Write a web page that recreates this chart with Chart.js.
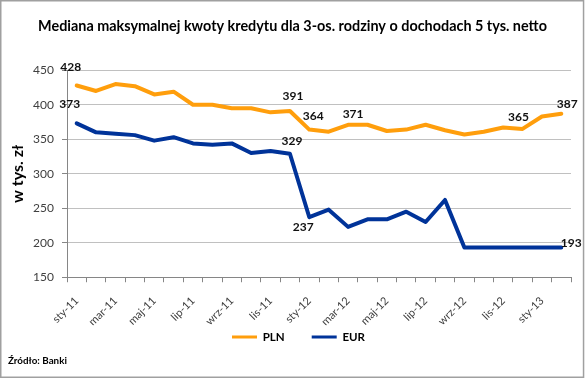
<!DOCTYPE html>
<html><head><meta charset="utf-8">
<script src="https://cdn.jsdelivr.net/npm/chart.js@4"></script>
<style>html,body{margin:0;padding:0;background:#fff}canvas{display:block}</style>
</head><body>
<canvas id="c" width="585" height="378"></canvas>
<script>
// ---- data ----
const categories = ['sty-11','lut-11','mar-11','kwi-11','maj-11','cze-11','lip-11','sie-11','wrz-11','paź-11','lis-11','gru-11',
  'sty-12','lut-12','mar-12','kwi-12','maj-12','cze-12','lip-12','sie-12','wrz-12','paź-12','lis-12','gru-12','sty-13','lut-13'];
const plnValues = [428,420,430,427,415,419,400,400,395,395,389,391,364,361,371,371,362,364,371,363,357,361,367,365,383,387];
const eurValues = [373,360,358,356,348,353,344,342,344,330,333,329,237,248,223,234,234,245,230,262,193,193,193,193,193,193];
const seriesNames = ['PLN','EUR'];
const yTicks = [150,200,250,300,350,400,450];
const plnLabelled = [0,11,12,14,23,25];
const eurLabelled = [0,11,12,25];
const titleText = 'Mediana maksymalnej kwoty kredytu dla 3-os. rodziny o dochodach 5 tys. netto';
const yTitle = 'w tys. zł';
const sourceText = 'Źródło: Banki';

// ---- styles / label placement ----
const FONT = 'Lato, "Open Sans", "DejaVu Sans", sans-serif';
const labelOffsets = {
  0: {0:[-6,-18], 11:[3,-15], 12:[4,-13], 14:[5,-11], 23:[-4,-12], 25:[6,-10]},
  1: {0:[-7,-19], 11:[2,-13], 12:[-6,10], 25:[10,-4]}
};
const LEGEND_TEXT_Y = 337;
const LEGEND_SHIFT_X = 6;

const pointLabels = {
  id: 'pointLabels',
  afterDatasetsDraw(chart) {
    const ctx = chart.ctx;
    ctx.save();
    ctx.font = 'bold 12px ' + FONT;
    ctx.fillStyle = '#111';
    ctx.textAlign = 'center';
    ctx.textBaseline = 'middle';
    [plnLabelled, eurLabelled].forEach((list, ds) => {
      const meta = chart.getDatasetMeta(ds);
      list.forEach(i => {
        const p = meta.data[i];
        const off = labelOffsets[ds][i] || [0,-12];
        ctx.fillText(String(chart.data.datasets[ds].data[i]), p.x + off[0], p.y + off[1]);
      });
    });
    ctx.restore();
  }
};

const frame = {
  id: 'frame',
  beforeDraw(chart) {
    const ctx = chart.ctx;
    ctx.save();
    ctx.fillStyle = '#fff';
    ctx.fillRect(0, 0, chart.width, chart.height);
    ctx.restore();
  },
  afterLayout(chart) {
    if (chart.titleBlock) { chart.titleBlock.left = 0; chart.titleBlock.right = chart.width; }
    const lg = chart.legend;
    if (lg) {
      lg.left = LEGEND_SHIFT_X; lg.right = chart.width + LEGEND_SHIFT_X;
      lg.width = chart.width;
      const pad = lg.options.labels.padding;
      const fs = lg.options.labels.font.size;
      lg.top = LEGEND_TEXT_Y - pad - fs / 2;
      lg.bottom = lg.top + pad + fs + 12;
      lg.height = lg.bottom - lg.top;
    }
  },
  afterDraw(chart) {
    const ctx = chart.ctx;
    ctx.save();
    ctx.strokeStyle = '#a0a0a0';
    ctx.lineWidth = 1.5;
    ctx.strokeRect(0.75, 0.75, chart.width - 2.2, chart.height - 1.5);
    ctx.restore();
  }
};

new Chart(document.getElementById('c'), {
  type: 'line',
  data: {
    labels: categories,
    datasets: [
      { label: seriesNames[0], data: plnValues, borderColor: '#FF9E0C', backgroundColor: '#FF9E0C',
        borderWidth: 4, pointRadius: 0, tension: 0, borderJoinStyle: 'round', borderCapStyle: 'round' },
      { label: seriesNames[1], data: eurValues, borderColor: '#003399', backgroundColor: '#003399',
        borderWidth: 4, pointRadius: 0, tension: 0, borderJoinStyle: 'round', borderCapStyle: 'round' }
    ]
  },
  options: {
    responsive: false,
    devicePixelRatio: 1,
    animation: false,
    layout: { padding: { left: 8, right: 14, top: 0, bottom: 0 } },
    plugins: {
      tooltip: { enabled: false },
      title: {
        display: true, text: titleText, color: '#000',
        font: { family: FONT, size: 14.4, weight: 'bold', lineHeight: 1.2 },
        padding: { top: 18, bottom: 35 }
      },
      subtitle: {
        display: true, text: sourceText, position: 'bottom', align: 'start', color: '#000',
        font: { family: FONT, size: 9.8, weight: 'bold', lineHeight: 1.2 },
        padding: { top: 0, bottom: 11 }
      },
      legend: {
        display: true, position: 'bottom', maxHeight: 30,
        labels: {
          color: '#000', font: { family: FONT, size: 11.5, weight: 'bold' },
          boxWidth: 25, boxHeight: 3, padding: 27,
          generateLabels(chart) {
            return chart.data.datasets.map((d, i) => ({
              text: d.label, fillStyle: d.borderColor, strokeStyle: d.borderColor, lineWidth: 0,
              hidden: false, datasetIndex: i, fontColor: '#000'
            }));
          }
        }
      }
    },
    scales: {
      x: {
        type: 'category', offset: true,
        grid: { offset: true, drawOnChartArea: false, drawTicks: true, tickLength: 5, color: '#868686' },
        border: { color: '#868686', width: 1 },
        ticks: {
          autoSkip: false, maxRotation: 45, minRotation: 45, padding: 12,
          color: '#404040', font: { family: FONT, size: 11 },
          callback: (v, i) => (i % 2 === 0 ? categories[i] : '')
        },
        afterFit(scale) { scale.height = 48; }
      },
      y: {
        min: 150, max: 450,
        afterBuildTicks(scale) { scale.ticks = yTicks.map(v => ({ value: v })); },
        grid: { color: '#c0c0c0', tickLength: 5, drawTicks: true, tickColor: '#868686' },
        border: { color: '#868686', width: 1 },
        ticks: { padding: 8, color: '#404040', font: { family: FONT, size: 12 } },
        title: {
          display: true, text: yTitle, color: '#000',
          font: { family: FONT, size: 16, weight: 'bold', lineHeight: 1.2 },
          padding: { top: 0, bottom: 0 }
        },
        afterFit(scale) { scale.width = 59; }
      }
    }
  },
  plugins: [frame, pointLabels]
});
</script>
</body></html>
